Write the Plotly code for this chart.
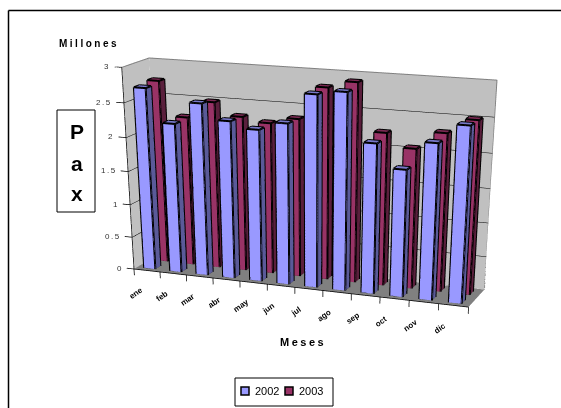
import plotly.graph_objects as go

FW, FH = 622, 1200
months = ["ene", "feb", "mar", "abr", "may", "jun", "jul", "ago", "sep", "oct", "nov", "dic"]
v2002 = [2.71, 2.23, 2.55, 2.33, 2.24, 2.36, 2.79, 2.85, 2.18, 1.85, 2.25, 2.52]
v2003 = [2.74, 2.24, 2.49, 2.31, 2.25, 2.34, 2.81, 2.91, 2.24, 2.05, 2.30, 2.51]
ticks = [0, 0.5, 1, 1.5, 2, 2.5, 3]
tick_text = ["0", "0.5", "1", "1.5", "2", "2.5", "3"]
XR = (-0.4, 12.0); YR = (0.0, 2.0); ZR = (-0.15, 3.0)

BLUE = "#9999FF"; BLUE_S = "#5A5A99"; BLUE_T = "#7777C8"
RED = "#993366"; RED_S = "#5A1F3C"; RED_T = "#7A2952"
NOLIGHT = dict(ambient=1, diffuse=0, specular=0, fresnel=0)

def bars(values, y0, y1, off, bw, cols, name):
    xs, ys, zs, i, j, k, fc = [], [], [], [], [], [], []
    ex, ey, ez = [], [], []
    for n, v in enumerate(values):
        x0 = n + off; x1 = x0 + bw
        b = len(xs)
        for (a, c, h) in [(x0,y0,0),(x1,y0,0),(x1,y1,0),(x0,y1,0),(x0,y0,v),(x1,y0,v),(x1,y1,v),(x0,y1,v)]:
            xs.append(a); ys.append(c); zs.append(h)
        faces = [((0,1,5),cols[0]),((0,5,4),cols[0]),((1,2,6),cols[1]),((1,6,5),cols[1]),((3,0,4),cols[1]),
                 ((3,4,7),cols[1]),((2,3,7),cols[1]),((2,7,6),cols[1]),((4,5,6),cols[2]),((4,6,7),cols[2])]
        for f, c in faces:
            i.append(b+f[0]); j.append(b+f[1]); k.append(b+f[2]); fc.append(c)
        for e0, e1 in [(0,1),(1,2),(2,3),(3,0),(4,5),(5,6),(6,7),(7,4),(0,4),(1,5),(2,6),(3,7)]:
            ex += [xs[b+e0], xs[b+e1], None]; ey += [ys[b+e0], ys[b+e1], None]; ez += [zs[b+e0], zs[b+e1], None]
    mesh = go.Mesh3d(x=xs, y=ys, z=zs, i=i, j=j, k=k, facecolor=fc, flatshading=True, hoverinfo="skip",
                     showlegend=False, lighting=NOLIGHT, name=name)
    line = go.Scatter3d(x=ex, y=ey, z=ez, mode="lines", line=dict(color="black", width=4), hoverinfo="skip", showlegend=False)
    return [mesh, line]

fig = go.Figure()
wx = [0,12,12,0, 0,0,0,0, 0,12,12,0]
wy = [2,2,2,2, 0,2,2,0, 0,0,2,2]
wz = [0,0,3,3, 0,0,3,3, 0,0,0,0]
fig.add_trace(go.Mesh3d(x=wx, y=wy, z=wz, i=[0,0,4,4,8,8], j=[1,2,5,6,9,10], k=[2,3,6,7,10,11],
    facecolor=["#C0C0C0"]*4 + ["#808080"]*2, flatshading=True, hoverinfo="skip", showlegend=False, lighting=NOLIGHT))
gx, gy, gz = [], [], []
for t in ticks[1:-1]:
    gx += [0.01, 0.01, 12, None]; gy += [0, 1.99, 1.99, None]; gz += [t, t, t, None]
fig.add_trace(go.Scatter3d(x=gx, y=gy, z=gz, mode="lines", line=dict(color="black", width=1), hoverinfo="skip", showlegend=False))
fig.add_trace(go.Scatter3d(x=[0,0,12,12], y=[0,2,2,2], z=[3,3,3,0], mode="lines", line=dict(color="#808080", width=2), hoverinfo="skip", showlegend=False))
ax_x, ax_y, ax_z = [0,0,None,0,12,None], [0,0,None,0,0,None], [3,0,None,0,0,None]
for t in ticks:
    ax_x += [0,-0.28,None]; ax_y += [0,0,None]; ax_z += [t,t,None]
for n in range(13):
    ax_x += [n,n,None]; ax_y += [0,0,None]; ax_z += [0,-0.1,None]
fig.add_trace(go.Scatter3d(x=ax_x, y=ax_y, z=ax_z, mode="lines", line=dict(color="black", width=1.5), hoverinfo="skip", showlegend=False))
for tr in bars(v2003, 1.25, 1.65, 0.27, 0.43, (RED, RED_S, RED_T), "2003"): fig.add_trace(tr)
for tr in bars(v2002, 0.25, 0.65, 0.27, 0.43, (BLUE, BLUE_S, BLUE_T), "2002"): fig.add_trace(tr)

FONT = "Liberation Sans"
sa = []
for t, s in zip(ticks, tick_text):
    sa.append(dict(x=-0.28, y=0, z=t, text='<span style="letter-spacing:1.5px">%s</span>' % s, showarrow=False,
                   xanchor="right", xshift=-2, font=dict(family=FONT, size=8, color="#333333")))
for n, m in enumerate(months):
    sa.append(dict(x=n+0.05, y=0, z=-0.1, text="<b>%s</b>" % m, showarrow=False, textangle=-35, yshift=-18,
                   font=dict(family=FONT, size=8, color="black")))
ann = [
    dict(x=57, y=44, text='<span style="letter-spacing:2.5px"><b>Millones</b></span>', xanchor="left", size=10),
    dict(x=303, y=342, text='<span style="letter-spacing:2.5px"><b>Meses</b></span>', size=11),
    dict(x=77, y=132, text="<b>P</b>", size=21),
    dict(x=77, y=163, text="<b>a</b>", size=21),
    dict(x=77, y=193, text="<b>x</b>", size=21),
    dict(x=253, y=391, text="2002", xanchor="left", size=11),
    dict(x=297, y=391, text="2003", xanchor="left", size=11),
]
annots = [dict(xref="paper", yref="paper", x=a["x"]/FW, y=1-a["y"]/FH, text=a["text"], showarrow=False,
               xanchor=a.get("xanchor", "center"), yanchor="middle", font=dict(family=FONT, color="black", size=a["size"])) for a in ann]
def pl(x0, y0, x1, y1, **k):
    return dict(type=k.pop("type", "line"), xref="paper", yref="paper", x0=x0/FW, x1=x1/FW, y0=1-y0/FH, y1=1-y1/FH, **k)
shapes = [pl(8.5,10.5,FW,10.5, line=dict(color="black", width=1.5)),
          pl(8.5,10.5,8.5,FH, line=dict(color="black", width=1.5)),
          pl(57,110,95,212, type="rect", line=dict(color="black", width=1), fillcolor="white"),
          pl(235,378,333,406, type="rect", line=dict(color="black", width=1), fillcolor="white"),
          pl(241,387,249,395, type="rect", line=dict(color="black", width=1.5), fillcolor=BLUE),
          pl(285,387,293,395, type="rect", line=dict(color="black", width=1.5), fillcolor=RED)]
fig.update_layout(width=FW, height=FH, margin=dict(l=0, r=0, t=0, b=0), paper_bgcolor="white", showlegend=False,
    scene=dict(domain=dict(x=[0,1], y=[0,1]), bgcolor="rgba(0,0,0,0)",
        xaxis=dict(visible=False, range=list(XR)), yaxis=dict(visible=False, range=list(YR)), zaxis=dict(visible=False, range=list(ZR)),
        aspectmode="manual", aspectratio=dict(x=1.7725, y=0.2863, z=1),
        camera=dict(eye=dict(x=2.4950, y=-6.4581, z=1.6320), center=dict(x=-0.0516, y=0.2876, z=-2.4095),
                    up=dict(x=0, y=0, z=1), projection=dict(type="perspective")),
        annotations=sa),
    annotations=annots, shapes=shapes)
fig.write_html("out.html", config=dict(displayModeBar=False),
               post_script="document.body.style.margin='0';document.documentElement.style.overflow='hidden';")
